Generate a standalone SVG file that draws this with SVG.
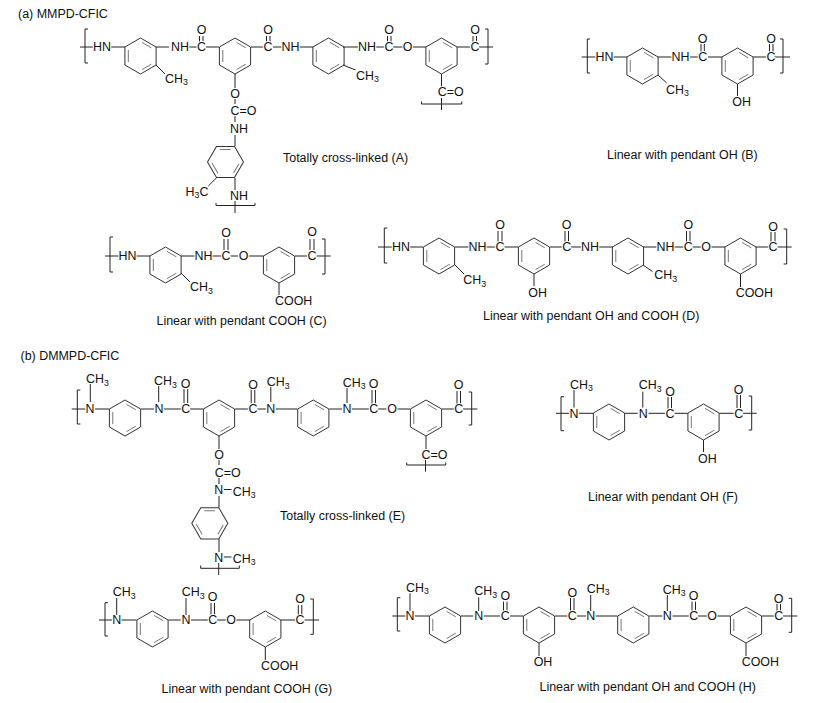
<svg xmlns="http://www.w3.org/2000/svg" xmlns:xlink="http://www.w3.org/1999/xlink" width="823" height="703" viewBox="0 0 823 703">
<style>
text{font-family:"Liberation Sans",Arial,sans-serif;font-size:12.45px;fill:#111;stroke:#fff;stroke-width:2.2px;paint-order:stroke;stroke-linejoin:round}
.m{text-anchor:middle}
.s{font-size:8.8px}
.b{fill:none;stroke:#222;stroke-width:1}
.r{fill:none;stroke:#333;stroke-width:1}
.i{fill:none;stroke:#777;stroke-width:1}
</style>
<defs>
<g id="ring"><path class="r" d="M0-18 15.6-9V9L0 18-15.6 9V-9Z"/><path class="i" d="M-12.2-6V6M1.5-13.6 10.8-8.2M1.5 13.6 10.8 8.2"/></g>
</defs>
<rect width="823" height="703" fill="#fff"/>
<text id="title-a" x="18" y="18">(a) MMPD-CFIC</text>
<text id="title-b" x="20.5" y="359.5">(b) DMMPD-CFIC</text>

<g id="mol-A">
<use href="#ring" x="140.5" y="56"/><use href="#ring" x="235" y="56"/><use href="#ring" x="328.5" y="56"/><use href="#ring" x="441.5" y="56"/>
<use href="#ring" transform="translate(225.5 162) rotate(-30)"/>
<g class="bonds"><path class="b" d="M88 29H85V63H88M80 47H93M111 47H125M156 47H169M188 47H197M206 47H219M251 47H264M273 47H282M299 47H313M343 47H358M375 47H385M393 47H403M412 47H426M457 47H470M479 47H493M485 29H488V64H485M199.5 36V43M203 36V43M266.5 36V43M270 36V43M387.5 36V43M391 36V43M473 36V43M476.5 36V43M156 65 165 74M343 65 355.5 70M235 74V88M235 99V104M235 116V122M235 135V146M216.7 177.7 208.3 186M235 178V190M235 201V213M216 203V205.5H255V203M441.5 74V88M441.5 98V110M421.5 101.5V104H461.7V101.5"/></g>
<text class="m" x="102" y="51.4">HN</text><text class="m" x="180" y="51.4">NH</text><text class="m" x="201.5" y="51.4">C</text><text class="m" x="201.5" y="33.7">O</text><text class="m" x="268" y="51.4">C</text><text class="m" x="268" y="33.7">O</text><text class="m" x="290.5" y="51.4">NH</text><text class="m" x="367" y="51.4">NH</text><text class="m" x="389" y="51.4">C</text><text class="m" x="389" y="34">O</text><text class="m" x="407.7" y="51.4">O</text><text class="m" x="475" y="51.4">C</text><text class="m" x="475" y="34">O</text>
<text x="165" y="82.5">CH<tspan class="s" dy="2.5">3</tspan></text><text x="356" y="79.5">CH<tspan class="s" dy="2.5">3</tspan></text>
<text class="m" x="235" y="97.5">O</text><text x="230.5" y="114.5">C=O</text><text x="230" y="132.5">NH</text><text x="185.5" y="195.5">H<tspan class="s" dy="2.5">3</tspan><tspan dy="-2.5">C</tspan></text><text x="230" y="199.5">NH</text>
<text x="437.7" y="96.4">C=O</text>
<text x="283" y="162">Totally cross-linked (A)</text>
</g>

<g id="mol-B">
<use href="#ring" x="642.5" y="66"/><use href="#ring" x="737.5" y="66"/>
<g class="bonds"><path class="b" d="M590 39H587.3V73H590M581.7 57H596M613 57H627M658 57H672M690 57H698M708 57H722M753 57H766.7M774.5 57H790M780 39H783V73H780M701 44V52M704.3 44V52M769.5 44V52M773 44V52M658 75 666.7 83M737.5 84V96"/></g>
<text class="m" x="604.5" y="61.4">HN</text><text class="m" x="680.5" y="61.4">NH</text><text class="m" x="702.7" y="61.4">C</text><text class="m" x="702.7" y="43.4">O</text><text class="m" x="771" y="61.4">C</text><text class="m" x="771" y="43.4">O</text>
<text x="666" y="93.5">CH<tspan class="s" dy="2.5">3</tspan></text><text class="m" x="741.7" y="106.4">OH</text>
<text x="607" y="159.4">Linear with pendant OH (B)</text>
</g>

<g id="mol-C">
<use href="#ring" x="165.5" y="265"/><use href="#ring" x="279" y="265"/>
<g class="bonds"><path class="b" d="M113 237H110V272H113M105 256H119M136 256H150M181 256H195M212 256H222M230.5 256H238M248 256H263.5M295 256H307M316.5 256H330.7M322 239H325V274H322M224 239V250M228 239V250M310 239V250M314 239V250M181 273 190 282M279 283V296"/></g>
<text class="m" x="127.5" y="260.4">HN</text><text class="m" x="203.5" y="260.4">NH</text><text class="m" x="226" y="260.4">C</text><text class="m" x="226" y="237.2">O</text><text class="m" x="243.7" y="260.4">O</text><text class="m" x="312" y="260.4">C</text><text class="m" x="312" y="235.5">O</text>
<text x="190" y="291">CH<tspan class="s" dy="2.5">3</tspan></text><text x="275" y="305">COOH</text>
<text x="156.5" y="325.4">Linear with pendant COOH (C)</text>
</g>

<g id="mol-D">
<use href="#ring" x="439" y="256"/><use href="#ring" x="534" y="256"/><use href="#ring" x="628" y="256"/><use href="#ring" x="740.5" y="256"/>
<g class="bonds"><path class="b" d="M387.3 228H384.3V263H387.3M378 247H392M410 247H423M455 247H469M486 247H496M504.5 247H518M550 247H562.7M571 247H581.7M598 247H613M643 247H657M674 247H684M692.5 247H701M711 247H725M755.7 247H769M777.5 247H791.7M783.7 229H786.7V264H783.7M498 231V243M502 231V243M565 231V243M568.5 231V243M686.5 231V243M690 231V243M771 232V243M775 232V243M455 265 464 274M643 265 652.5 271.5M534 274V286M740.5 274V287"/></g>
<text class="m" x="401" y="251.4">HN</text><text class="m" x="477.5" y="251.4">NH</text><text class="m" x="500" y="251.4">C</text><text class="m" x="500" y="228.7">O</text><text class="m" x="566.7" y="251.4">C</text><text class="m" x="566.7" y="228.7">O</text><text class="m" x="590" y="251.4">NH</text><text class="m" x="665.5" y="251.4">NH</text><text class="m" x="688.3" y="251.4">C</text><text class="m" x="688.3" y="228.7">O</text><text class="m" x="706" y="251.4">O</text><text class="m" x="773" y="251.4">C</text><text class="m" x="773" y="231">O</text>
<text x="463.3" y="284">CH<tspan class="s" dy="2.5">3</tspan></text><text x="654.3" y="279">CH<tspan class="s" dy="2.5">3</tspan></text><text class="m" x="537.7" y="296.5">OH</text><text x="735.7" y="296.7">COOH</text>
<text x="483" y="320">Linear with pendant OH and COOH (D)</text>
</g>

<g id="mol-E">
<use href="#ring" x="125" y="418"/><use href="#ring" x="219" y="418"/><use href="#ring" x="313.3" y="418"/><use href="#ring" x="426" y="418"/>
<use href="#ring" transform="translate(209.8 523.3) rotate(-30)"/>
<g class="bonds"><path class="b" d="M80.3 390H77.3V424H80.3M71.7 409H85.5M95 409H109.3M90.3 384V402M141 409H154M164 409H181.7M190 409H203.3M235 409H248.7M257.5 409H266.5M275.5 409H297.3M329.3 409H342.3M352 409H369M378 409H386.5M397 409H410M441.7 409H454.3M463 409H477.3M468.7 392H471.7V425H468.7M158.7 385V402M270.8 387V402M347 388V403M184 389V403M187.7 389V403M251.2 389V403M254.8 389V403M372 390V404M375.5 390V404M457 391V404M460.5 391V404M219 436V449M219 460V465M219 477V484M224 489.5H231.5M219 496V507.5M219 539V552M224 557H231.5M218.7 563V575M200.7 565.5V568.3H239.3V565.5M426 436V449M425.5 460V471.7M406.7 462.5V465H445.7V462.5"/></g>
<text class="m" x="90" y="413.4">N</text><text class="m" x="159" y="413.4">N</text><text class="m" x="185.7" y="413.4">C</text><text class="m" x="185.7" y="388.4">O</text><text class="m" x="253" y="413.4">C</text><text class="m" x="253" y="389">O</text><text class="m" x="270.7" y="413.4">N</text><text class="m" x="347" y="413.4">N</text><text class="m" x="373.7" y="413.4">C</text><text class="m" x="373.7" y="388">O</text><text class="m" x="392" y="413.4">O</text><text class="m" x="458.7" y="413.4">C</text><text class="m" x="458.7" y="389">O</text>
<text x="86" y="383.4">CH<tspan class="s" dy="2.5">3</tspan></text><text x="154" y="385">CH<tspan class="s" dy="2.5">3</tspan></text><text x="266.7" y="386">CH<tspan class="s" dy="2.5">3</tspan></text><text x="342.7" y="386.7">CH<tspan class="s" dy="2.5">3</tspan></text>
<text class="m" x="219" y="459.4">O</text><text x="214.7" y="477">C=O</text><text class="m" x="218.7" y="494.4">N</text><text x="232.7" y="495.7">CH<tspan class="s" dy="2.5">3</tspan></text><text class="m" x="218.7" y="561.7">N</text><text x="232.7" y="562.7">CH<tspan class="s" dy="2.5">3</tspan></text><text x="421.5" y="459.4">C=O</text>
<text x="280" y="520">Totally cross-linked (E)</text>
</g>

<g id="mol-F">
<use href="#ring" x="609" y="422"/><use href="#ring" x="703.5" y="422"/>
<g class="bonds"><path class="b" d="M564 396.7H561V430.7H564M556 413.3H569.5M578.7 413.3H593.3M574 390V407.5M625 413.3H637.7M642.8 391.7V407.5M648.5 413.3H665M674.5 413.3H687.7M719.3 413.3H734M743 413.3H756.7M748.7 396H751.7V430H748.7M668 397V409M671.5 397V409M737 395V408M740.5 395V408M703.5 440V452"/></g>
<text class="m" x="574" y="417.7">N</text><text class="m" x="643.3" y="417.7">N</text><text class="m" x="670" y="417.7">C</text><text class="m" x="670" y="396">O</text><text class="m" x="738.7" y="417.7">C</text><text class="m" x="738.7" y="393.7">O</text>
<text x="570" y="388.7">CH<tspan class="s" dy="2.5">3</tspan></text><text x="638.7" y="389.4">CH<tspan class="s" dy="2.5">3</tspan></text><text class="m" x="707.3" y="462.7">OH</text>
<text x="588" y="501">Linear with pendant OH (F)</text>
</g>

<g id="mol-G">
<use href="#ring" x="152.5" y="629"/><use href="#ring" x="265.3" y="629"/>
<g class="bonds"><path class="b" d="M108 602.7H105V636H108M99 620H112.5M121 620H136.7M116.7 598V615M168.3 620H180.7M186 598V615M191 620H208.3M217 620H226M236 620H250M280.7 620H295.7M304.5 620H319M310.3 599H313.3V634.3H310.3M211 603V617M214.5 603V617M298.3 605V617M301.8 605V617M265.3 647V660"/></g>
<text class="m" x="116.7" y="624.4">N</text><text class="m" x="186" y="624.4">N</text><text class="m" x="212.7" y="624.4">C</text><text class="m" x="212.7" y="601">O</text><text class="m" x="231" y="624.4">O</text><text class="m" x="300" y="624.4">C</text><text class="m" x="300" y="603.4">O</text>
<text x="112.7" y="596">CH<tspan class="s" dy="2.5">3</tspan></text><text x="181.7" y="596">CH<tspan class="s" dy="2.5">3</tspan></text><text x="261" y="670">COOH</text>
<text x="161.5" y="692.7">Linear with pendant COOH (G)</text>
</g>

<g id="mol-H">
<use href="#ring" x="445" y="625"/><use href="#ring" x="539" y="625"/><use href="#ring" x="633.3" y="625"/><use href="#ring" x="746" y="625"/>
<g class="bonds"><path class="b" d="M400.3 597.7H397.3V631H400.3M392.3 616H405.5M414.7 616H429.3M410 593.3V611M461 616H473.3M478.7 597.3V611M483.7 616H500.7M510 616H523.3M555 616H567.7M577 616H586M595.5 616H617.3M590.7 595V611M649.3 616H662.7M667.3 595V611M672.5 616H689.3M698 616H707M717 616H730M761.7 616H774.3M783 616H797.3M788.7 598.3H791.7V632.3H788.7M503.5 601.7V611.7M507 601.7V611.7M570.5 598V611.7M574 598V611.7M692 601.7V611.7M695.5 601.7V611.7M777 603V611.7M780.5 603V611.7M539 643V656M746 643V656"/></g>
<text class="m" x="410" y="620.4">N</text><text class="m" x="478.7" y="620.4">N</text><text class="m" x="505.3" y="620.4">C</text><text class="m" x="505.3" y="600">O</text><text class="m" x="572.3" y="620.4">C</text><text class="m" x="572.3" y="597">O</text><text class="m" x="590.7" y="620.4">N</text><text class="m" x="667.3" y="620.4">N</text><text class="m" x="693.7" y="620.4">C</text><text class="m" x="693.7" y="600">O</text><text class="m" x="712" y="620.4">O</text><text class="m" x="778.7" y="620.4">C</text><text class="m" x="778.7" y="602.7">O</text>
<text x="406" y="591.7">CH<tspan class="s" dy="2.5">3</tspan></text><text x="474.3" y="595.4">CH<tspan class="s" dy="2.5">3</tspan></text><text x="586.7" y="592.7">CH<tspan class="s" dy="2.5">3</tspan></text><text x="662.7" y="593.7">CH<tspan class="s" dy="2.5">3</tspan></text>
<text class="m" x="543" y="666">OH</text><text x="741.7" y="666">COOH</text>
<text x="539.5" y="691">Linear with pendant OH and COOH (H)</text>
</g>
</svg>
